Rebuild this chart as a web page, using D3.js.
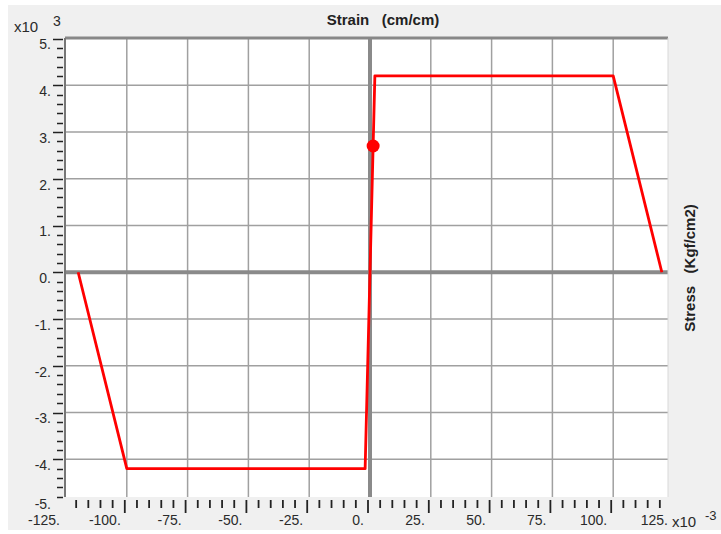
<!DOCTYPE html>
<html>
<head>
<meta charset="utf-8">
<script src="https://cdn.jsdelivr.net/npm/d3@7"></script>
<style>
  html, body { margin: 0; padding: 0; background: #fff; }
  svg { display: block; font-family: "Liberation Sans", Arial, sans-serif; }
</style>
</head>
<body>
<svg id="chart" width="721" height="534"></svg>
<script>
// curve values, strain in x10^-3, stress in x10^3
var strain = [-120, -100, -2, 2, 100, 120];
var stress = [0, -4.2, -4.2, 4.2, 4.2, 0];
var pointStrain = [1.29];
var pointStress = [2.7];
var xTickLabels = [-125, -100, -75, -50, -25, 0, 25, 50, 75, 100, 125];
var yTickLabels = [5, 4, 3, 2, 1, 0, -1, -2, -3, -4, -5];

var svg = d3.select("#chart"),
  frame = { left: 66, right: 668, top: 38, bottom: 497 },
  x = d3.scaleLinear().domain([-125, 125]).range([66, 674]),
  y = d3.scaleLinear().domain([-5, 5]).range([506, 38.5]),
  gridColor = "#a0a0a0",
  axisColor = "#8a8a8a",
  textColor = "#2a2a2a";

svg.append("rect")
  .attr("x", 8).attr("y", 5)
  .attr("width", 713).attr("height", 525)
  .attr("fill", "#f0f0f0");

svg.append("rect")
  .attr("x", frame.left).attr("y", frame.top)
  .attr("width", frame.right - frame.left)
  .attr("height", frame.bottom - frame.top)
  .attr("fill", "#fff");

var grid = svg.append("g");

// vertical grid
grid.selectAll(".vg")
  .data(xTickLabels.filter(function(d) { return d !== 0 && x(d) > frame.left + 1 && x(d) < frame.right; }))
  .enter().append("line")
  .attr("x1", function(d) { return x(d); })
  .attr("x2", function(d) { return x(d); })
  .attr("y1", frame.top).attr("y2", frame.bottom)
  .attr("stroke", gridColor).attr("stroke-width", 1.5);

// horizontal grid
grid.selectAll(".hg")
  .data(yTickLabels.filter(function(d) { return d !== 0 && y(d) > frame.top + 1 && y(d) < frame.bottom; }))
  .enter().append("line")
  .attr("x1", frame.left).attr("x2", frame.right)
  .attr("y1", function(d) { return y(d); })
  .attr("y2", function(d) { return y(d); })
  .attr("stroke", gridColor).attr("stroke-width", 1.5);

// zero axes
grid.append("line")
  .attr("x1", x(0)).attr("x2", x(0))
  .attr("y1", frame.top).attr("y2", frame.bottom)
  .attr("stroke", axisColor).attr("stroke-width", 4);
grid.append("line")
  .attr("x1", frame.left).attr("x2", frame.right)
  .attr("y1", y(0)).attr("y2", y(0))
  .attr("stroke", axisColor).attr("stroke-width", 4);

// frame edges
svg.append("line")
  .attr("x1", frame.left - 1).attr("x2", frame.right)
  .attr("y1", frame.top).attr("y2", frame.top)
  .attr("stroke", "#888").attr("stroke-width", 3);
svg.append("line")
  .attr("x1", frame.left - 1).attr("x2", frame.left - 1)
  .attr("y1", frame.top).attr("y2", frame.bottom)
  .attr("stroke", "#777").attr("stroke-width", 2);
svg.append("line")
  .attr("x1", frame.right).attr("x2", frame.right)
  .attr("y1", frame.top).attr("y2", frame.bottom)
  .attr("stroke", "#d8d8d8").attr("stroke-width", 1);

// y ticks, minor every 0.2
var yTicks = d3.range(-25, 26).map(function(i) { return i / 5; })
  .filter(function(d) { return y(d) >= frame.top - 1 && y(d) <= frame.bottom; });
svg.append("g").selectAll("line")
  .data(yTicks)
  .enter().append("line")
  .attr("x1", function(d) { return Math.abs(d - Math.round(d)) < 1e-9 ? 53 : 57; })
  .attr("x2", 63)
  .attr("y1", function(d) { return Math.round(y(d)) + 0.5; })
  .attr("y2", function(d) { return Math.round(y(d)) + 0.5; })
  .attr("stroke", "#222").attr("stroke-width", 1.5);

svg.append("g").selectAll("text")
  .data(yTickLabels)
  .enter().append("text")
  .attr("x", 51)
  .attr("y", function(d) { return Math.min(y(d) + 6, 504); })
  .attr("dy", "0.35em")
  .attr("text-anchor", "end")
  .attr("font-size", 14)
  .attr("fill", textColor)
  .text(function(d) { return d + "."; });

// x ticks, minor every 5
var xTicks = d3.range(-120, 121, 5);
svg.append("g").selectAll("line")
  .data(xTicks)
  .enter().append("line")
  .attr("x1", function(d) { return x(d) - 2; })
  .attr("x2", function(d) { return x(d) - 2; })
  .attr("y1", 500)
  .attr("y2", function(d) { return d % 25 === 0 ? 513 : 508; })
  .attr("stroke", "#222").attr("stroke-width", 1.8);

svg.append("g").selectAll("text")
  .data(xTickLabels)
  .enter().append("text")
  .attr("x", function(d) { return x(d) - 6; })
  .attr("y", 525)
  .attr("text-anchor", "end")
  .attr("font-size", 14)
  .attr("fill", textColor)
  .text(function(d) { return d + "."; });

// exponent labels
svg.append("text")
  .attr("x", 14).attr("y", 32)
  .attr("font-size", 15).attr("fill", textColor)
  .text("x10");
svg.append("text")
  .attr("x", 53).attr("y", 26)
  .attr("font-size", 14).attr("fill", textColor)
  .text("3");
svg.append("text")
  .attr("x", 672).attr("y", 527)
  .attr("font-size", 15).attr("fill", textColor)
  .text("x10");
svg.append("text")
  .attr("x", 705).attr("y", 520)
  .attr("font-size", 13).attr("fill", textColor)
  .text("-3");

// titles
svg.append("text")
  .attr("x", 383).attr("y", 25)
  .attr("text-anchor", "middle")
  .attr("font-size", 15).attr("font-weight", "bold")
  .attr("fill", "#222")
  .attr("xml:space", "preserve")
  .text("Strain   (cm/cm)");
svg.append("text")
  .attr("transform", "translate(695,268) rotate(-90)")
  .attr("text-anchor", "middle")
  .attr("font-size", 15).attr("font-weight", "bold")
  .attr("fill", "#222")
  .attr("xml:space", "preserve")
  .text("Stress   (Kgf/cm2)");

// curve
var line = d3.line()
  .x(function(d) { return x(d[0]); })
  .y(function(d) { return y(d[1]); });

svg.append("path")
  .datum(d3.zip(strain, stress))
  .attr("d", line)
  .attr("fill", "none")
  .attr("stroke", "#ff0000")
  .attr("stroke-width", 2.8)
  .attr("stroke-linejoin", "round");

svg.append("g").selectAll("circle")
  .data(d3.zip(pointStrain, pointStress))
  .enter().append("circle")
  .attr("cx", function(d) { return x(d[0]); })
  .attr("cy", function(d) { return y(d[1]); })
  .attr("r", 6.5)
  .attr("fill", "#ff0000");
</script>
</body>
</html>
